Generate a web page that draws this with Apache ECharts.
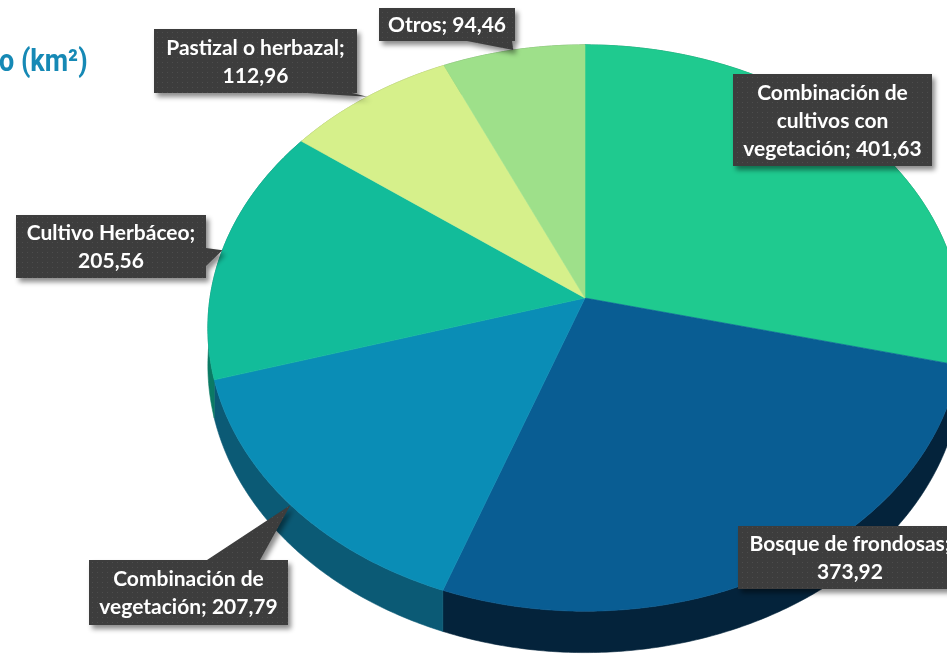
<!DOCTYPE html>
<html>
<head>
<meta charset="utf-8">
<script src="https://cdn.jsdelivr.net/npm/echarts@6/dist/echarts.min.js"></script>
<style>
  html, body { margin: 0; padding: 0; background: #fff; }
  #chart { width: 947px; height: 663px; }
</style>
</head>
<body>
<div id="chart"></div>
<script>
// datos
const categories = ['Combinación de cultivos con vegetación', 'Bosque de frondosas', 'Combinación de vegetación', 'Cultivo Herbáceo', 'Pastizal o herbazal', 'Otros'];
const values = [401.63, 373.92, 207.79, 205.56, 112.96, 94.46];
// palabras por línea antes del resto de la etiqueta
const labelWrap = [[2, 2], [3], [2], [2], [3], []];

// estilos
const topColors = ['#1fca8f', '#095d93', '#0a8db6', '#12bc9a', '#d6f08b', '#9ee08a'];
const sideColors = ['#12805a', '#04233b', '#0b5a75', '#0b7a64', '#8fa05a', '#65935a'];
// cajas de etiquetas: x, y, w, h, lado del puntero y tramo de su base
const boxes = [
  { x: 733, y: 74, w: 199, h: 92 },
  { x: 738, y: 526, w: 224, h: 63 },
  { x: 89, y: 560, w: 199, h: 65, edge: 'top', a: 118, b: 171 },
  { x: 16, y: 215, w: 190, h: 63, edge: 'right', a: 33, b: 51 },
  { x: 154, y: 29, w: 203, h: 64, edge: 'bottom', a: 153, b: 198 },
  { x: 379, y: 8, w: 136, h: 33, edge: 'bottom', a: 88, b: 133 }
];

// perspectiva del pastel
const CX = 585, CY = 298, RX = 375, RY = 280, K = 0.106, DEPTH = 37;
function proj(theta, drop) {
  const u = Math.sin(theta), v = -Math.cos(theta);
  const w = 1 - K * v;
  return [CX + RX * u / w, CY + RY * v / w + (drop || 0) / w];
}
function rim(t1, t2, drop) {
  const pts = [];
  const n = Math.max(2, Math.ceil((t2 - t1) / 0.01));
  for (let i = 0; i <= n; i++) pts.push(proj(t1 + (t2 - t1) * i / n, drop));
  return pts;
}

const total = values.reduce((s, v) => s + v, 0);
const starts = [];
values.reduce((acc, v) => { starts.push(acc); return acc + v; }, 0);

function fmt(v) { return v.toFixed(2).replace('.', ','); }
function labelText(i) {
  const words = (categories[i] + ';').split(' ').concat([fmt(values[i])]);
  const lines = [];
  let k = 0;
  labelWrap[i].forEach(c => { lines.push(words.slice(k, k + c).join(' ')); k += c; });
  lines.push(words.slice(k).join(' '));
  return lines.join('\n');
}

// patrón de puntos para las cajas
const pat = document.createElement('canvas');
pat.width = 5; pat.height = 5;
const pc = pat.getContext('2d');
pc.fillStyle = '#3d3d3d'; pc.fillRect(0, 0, 5, 5);
pc.fillStyle = '#4d4d4d'; pc.fillRect(2, 2, 1, 1);

function calloutPoints(b, tip) {
  const pts = [[b.x, b.y]];
  if (b.edge === 'top') pts.push([b.x + b.a, b.y], tip, [b.x + b.b, b.y]);
  pts.push([b.x + b.w, b.y]);
  if (b.edge === 'right') pts.push([b.x + b.w, b.y + b.a], tip, [b.x + b.w, b.y + b.b]);
  pts.push([b.x + b.w, b.y + b.h]);
  if (b.edge === 'bottom') pts.push([b.x + b.b, b.y + b.h], tip, [b.x + b.a, b.y + b.h]);
  pts.push([b.x, b.y + b.h]);
  return pts;
}

let myChart = echarts.init(document.getElementById('chart'));
const option = {
  animation: false,
  graphic: [{
    type: 'text',
    left: -1,
    top: 48,
    scaleX: 0.87,
    style: {
      text: 'o (km²)',
      fill: '#1689b5',
      font: 'bold 31px Roboto'
    }
  }],
  series: [{
    type: 'custom',
    coordinateSystem: 'none',
    data: values.map((v, i) => ({ name: categories[i], value: v })),
    renderItem: function (params, api) {
      const i = params.dataIndex;
      const v = api.value(0);
      const t1 = starts[i] / total * Math.PI * 2;
      const t2 = t1 + v / total * Math.PI * 2;
      const mid = (t1 + t2) / 2;
      const top = rim(t1, t2, 0);
      const side = top.concat(rim(t1, t2, DEPTH).reverse());
      const b = boxes[i];
      const children = [
        {
          type: 'polygon', z2: 1,
          shape: { points: side },
          style: { fill: sideColors[i], stroke: sideColors[i], lineWidth: 0.6 }
        },
        {
          type: 'polygon', z2: 10,
          shape: { points: [[CX, CY]].concat(top) },
          style: { fill: topColors[i], stroke: topColors[i], lineWidth: 0.6 }
        },
        {
          type: 'polygon', z2: 20,
          shape: { points: calloutPoints(b, proj(mid, 0)) },
          style: {
            fill: { image: pat, repeat: 'repeat' },
            shadowBlur: 5, shadowOffsetX: 3, shadowOffsetY: 4,
            shadowColor: 'rgba(0,0,0,0.45)'
          }
        },
        {
          type: 'text', z2: 30,
          style: {
            text: labelText(i),
            x: b.x + b.w / 2,
            y: b.y + b.h / 2 + 1,
            align: 'center',
            verticalAlign: 'middle',
            fill: '#ffffff',
            fontFamily: 'Lato',
            fontWeight: 'bold',
            fontSize: 21,
            lineHeight: 28
          }
        }
      ];
      return { type: 'group', children: children };
    }
  }]
};
myChart.setOption(option);
</script>
</body>
</html>
